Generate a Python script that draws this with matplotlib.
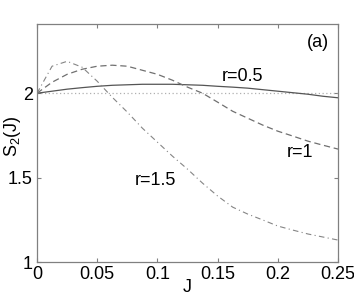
import matplotlib
matplotlib.use("Agg")
import matplotlib.pyplot as plt

plt.rcParams['font.family'] = ['Liberation Sans', 'DejaVu Sans']
plt.rcParams['mathtext.fontset'] = 'custom'
plt.rcParams['mathtext.rm'] = 'Liberation Sans'
plt.rcParams['mathtext.default'] = 'regular'

# J の値（横軸）
J = [0, 0.0125, 0.025, 0.0375, 0.05, 0.0625, 0.075, 0.0875, 0.1, 0.1125, 0.125,
     0.1375, 0.15, 0.1625, 0.175, 0.1875, 0.2, 0.2125, 0.225, 0.2375, 0.25]

# 各 r に対する S2(J)
s2_r05 = [2.0, 2.012, 2.024, 2.033, 2.041, 2.047, 2.050, 2.053, 2.053, 2.053, 2.050,
          2.047, 2.041, 2.036, 2.030, 2.021, 2.012, 2.003, 1.994, 1.982, 1.973]
s2_r1 = [2.0, 2.065, 2.112, 2.142, 2.160, 2.166, 2.160, 2.136, 2.112, 2.077, 2.036,
         2.0, 1.947, 1.893, 1.852, 1.811, 1.775, 1.746, 1.716, 1.692, 1.669]
s2_r15 = [2.0, 2.160, 2.189, 2.154, 2.071, 1.976, 1.888, 1.793, 1.710, 1.627, 1.550,
          1.467, 1.391, 1.325, 1.284, 1.249, 1.213, 1.189, 1.166, 1.148, 1.130]

xticks = [0, 0.05, 0.1, 0.15, 0.2, 0.25]
xticklabels = ['0', '0.05', '0.1', '0.15', '0.2', '0.25']
yticks = [1, 1.5, 2]
yticklabels = ['1', '1.5', '2']

fig = plt.figure(figsize=(3.54, 2.94), dpi=100)
ax = fig.add_axes([0.1045, 0.1088, 0.8505, 0.8095])

ax.axhline(2.0, color='#b0b0b0', linestyle=(0, (1, 2)), linewidth=0.9)  # 基準線
ax.plot(J, s2_r05, color='#555555', linestyle='-', linewidth=0.9)
ax.plot(J, s2_r1, color='#707070', linestyle=(0, (5, 3)), linewidth=0.9)
ax.plot(J, s2_r15, color='#858585', linestyle=(0, (5, 3, 1, 3)), linewidth=0.8)

ax.set_xlim(0, 0.25)
ax.set_ylim(1, 2.41)
ax.set_xticks(xticks)
ax.set_xticklabels(xticklabels)
ax.set_yticks(yticks)
ax.set_yticklabels(yticklabels)
ax.tick_params(direction='in', top=True, right=True, labelsize=13, length=3,
               color='#808080', pad=3)
for sp in ax.spines.values():
    sp.set_color('#808080')
    sp.set_linewidth(0.9)

ax.text(0.1537, 2.10, 'r=0.5', fontsize=13, ha='left', va='center')
ax.text(0.2076, 1.651, 'r=1', fontsize=13, ha='left', va='center')
ax.text(0.0814, 1.485, 'r=1.5', fontsize=13, ha='left', va='center')
ax.text(0.2243, 2.30, '(a)', fontsize=13, ha='left', va='center')

ax.set_xlabel('J', fontsize=13)
ax.set_ylabel('$S_2(J)$', fontsize=13)
ax.xaxis.set_label_coords(0.5, -0.072)
ax.yaxis.set_label_coords(-0.045, 0.53)

fig.savefig('out.png', dpi=100)
plt.close(fig)
